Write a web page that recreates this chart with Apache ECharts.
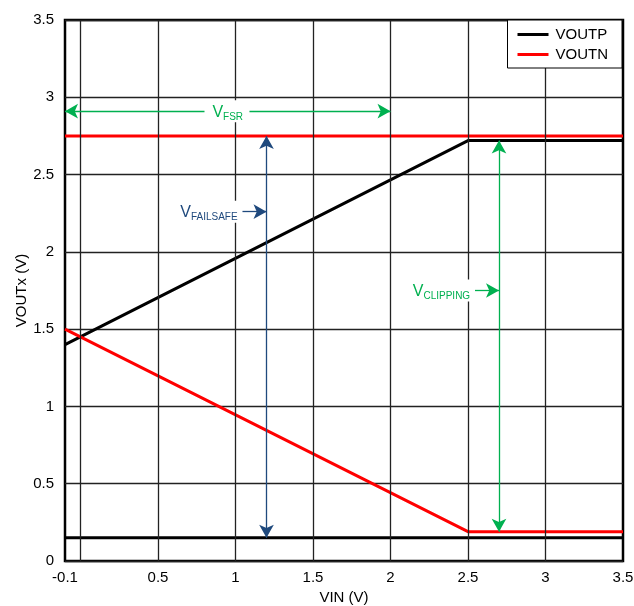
<!DOCTYPE html>
<html><head><meta charset="utf-8">
<script src="https://cdn.jsdelivr.net/npm/echarts@6/dist/echarts.min.js"></script>
<style>html,body{margin:0;padding:0;background:#fff}#c{width:634px;height:606px}</style>
</head><body><div id="c"></div>
<script>
// ---- data ----
const vin = [-0.1, 2.5, 3.5];
const voutp = [1.4, 2.72, 2.72];
const voutn = [1.5, 0.19, 0.19];
const vinRange = [-0.1, 3.5];
const voutpFloor = [0.15, 0.15];
const voutnCeiling = [2.75, 2.75];
const xTickLabels = [-0.1, 0.5, 1, 1.5, 2, 2.5, 3, 3.5];
const xGridValues = [0, 0.5, 1, 1.5, 2, 2.5, 3];
const fsrArrow = { y: 2.91, from: -0.1, to: 2.0, gapFrom: 0.8, gapTo: 1.09, labelX: 0.95 };
const failsafeArrow = { x: 1.2, from: 0.15, to: 2.75, labelY: 2.26, labelX: 1.03, pointerFrom: 1.045 };
const clippingArrow = { x: 2.7, from: 0.19, to: 2.72, labelY: 1.75, labelX: 2.53, pointerFrom: 2.545 };

// ---- chart ----
const FONT = "'Liberation Sans', Arial, sans-serif";
const GREEN = '#00b050';
const BLUE = '#1f497d';
const chart = echarts.init(document.getElementById('c'), null, { renderer: 'canvas' });

function pairs(xs, ys) { return xs.map((x, i) => [x, ys[i]]); }
function richLabel(main, sub, color) {
  return {
    show: true,
    formatter: '{v|' + main + '}{s|' + sub + '}',
    backgroundColor: '#fff',
    padding: [2, 2, 2, 2],
    rich: {
      v: { fontFamily: FONT, fontSize: 16, color: color, verticalAlign: 'bottom', lineHeight: 18 },
      s: { fontFamily: FONT, fontSize: 10, color: color, verticalAlign: 'bottom', lineHeight: 14, padding: [0, 0, -2, 0] }
    }
  };
}
const arrowStyle = (color) => ({ color: color, width: 1.3, type: 'solid' });

const option = {
  animation: false,
  backgroundColor: '#fff',
  textStyle: { fontFamily: FONT },
  grid: { left: 65, right: 11, top: 20, bottom: 45, show: true, borderColor: '#000', borderWidth: 2.5, backgroundColor: 'transparent', outerBoundsMode: 'none', containLabel: false },
  legend: {
    data: ['VOUTP', 'VOUTN'],
    orient: 'vertical',
    right: 12, top: 20,
    backgroundColor: '#fff',
    borderColor: '#000', borderWidth: 1, borderRadius: 0,
    padding: [7, 14, 6, 10],
    itemGap: 5,
    itemWidth: 31, itemHeight: 3,
    icon: 'rect',
    textStyle: { fontFamily: FONT, fontSize: 15, color: '#000', padding: [0, 0, 0, 2] },
    z: 20
  },
  xAxis: {
    type: 'value', min: vinRange[0], max: vinRange[1],
    name: 'VIN (V)', nameLocation: 'middle', nameGap: 29,
    nameTextStyle: { fontFamily: FONT, fontSize: 15, color: '#000' },
    axisLine: { show: false },
    axisTick: { show: false },
    splitLine: { show: false },
    axisLabel: { customValues: xTickLabels, fontFamily: FONT, fontSize: 15, color: '#000', margin: 9 }
  },
  yAxis: {
    type: 'value', min: 0, max: 3.5, interval: 0.5,
    name: 'VOUTx (V)', nameLocation: 'middle', nameGap: 36, nameMoveOverlap: false,
    nameTextStyle: { fontFamily: FONT, fontSize: 15, color: '#000' },
    axisLine: { show: false },
    axisTick: { show: false },
    splitLine: { show: true, lineStyle: { color: '#222', width: 1.3 } },
    axisLabel: { fontFamily: FONT, fontSize: 15, color: '#000', margin: 11 }
  },
  series: [
    {
      name: 'grid-x', type: 'line', data: [], z: 1, silent: true,
      markLine: {
        silent: true, symbol: ['none', 'none'], animation: false,
        label: { show: false },
        lineStyle: { color: '#222', width: 1.3, type: 'solid' },
        data: xGridValues.map(v => ({ xAxis: v }))
      }
    },
    {
      name: 'VOUTP', type: 'line', data: pairs(vin, voutp), showSymbol: false, symbol: 'none', z: 3,
      color: '#000', lineStyle: { color: '#000', width: 3 }
    },
    {
      name: 'VOUTN', type: 'line', data: pairs(vin, voutn), showSymbol: false, symbol: 'none', z: 3,
      color: '#ff0000', lineStyle: { color: '#ff0000', width: 3 }
    },
    {
      name: 'floor', type: 'line', data: pairs(vinRange, voutpFloor), showSymbol: false, symbol: 'none', z: 3,
      color: '#000', lineStyle: { color: '#000', width: 3 }
    },
    {
      name: 'ceiling', type: 'line', data: pairs(vinRange, voutnCeiling), showSymbol: false, symbol: 'none', z: 3,
      color: '#ff0000', lineStyle: { color: '#ff0000', width: 3 }
    },
    {
      name: 'annot', type: 'line', data: [], z: 5, silent: true,
      markLine: {
        silent: true, animation: false, symbolSize: [11, 13],
        label: { show: false },
        data: [
          [{ coord: [fsrArrow.from, fsrArrow.y], symbol: 'arrow', lineStyle: arrowStyle(GREEN) }, { coord: [fsrArrow.gapFrom, fsrArrow.y], symbol: 'none' }],
          [{ coord: [fsrArrow.gapTo, fsrArrow.y], symbol: 'none', lineStyle: arrowStyle(GREEN) }, { coord: [fsrArrow.to, fsrArrow.y], symbol: 'arrow' }],
          [{ coord: [failsafeArrow.x, failsafeArrow.from], symbol: 'arrow', lineStyle: arrowStyle(BLUE) }, { coord: [failsafeArrow.x, failsafeArrow.to], symbol: 'arrow' }],
          [{ coord: [failsafeArrow.pointerFrom, failsafeArrow.labelY], symbol: 'none', lineStyle: arrowStyle(BLUE) }, { coord: [failsafeArrow.x, failsafeArrow.labelY], symbol: 'arrow' }],
          [{ coord: [clippingArrow.x, clippingArrow.from], symbol: 'arrow', lineStyle: arrowStyle(GREEN) }, { coord: [clippingArrow.x, clippingArrow.to], symbol: 'arrow' }],
          [{ coord: [clippingArrow.pointerFrom, clippingArrow.labelY], symbol: 'none', lineStyle: arrowStyle(GREEN) }, { coord: [clippingArrow.x, clippingArrow.labelY], symbol: 'arrow' }]
        ]
      },
      markPoint: {
        silent: true, animation: false, symbol: 'circle', symbolSize: 1,
        itemStyle: { color: 'rgba(0,0,0,0)' },
        data: [
          { coord: [fsrArrow.labelX, fsrArrow.y], label: Object.assign(richLabel('V', 'FSR', GREEN), { position: 'inside' }) },
          { coord: [failsafeArrow.labelX, failsafeArrow.labelY], label: Object.assign(richLabel('V', 'FAILSAFE', BLUE), { position: 'left', distance: 0 }) },
          { coord: [clippingArrow.labelX, clippingArrow.labelY], label: Object.assign(richLabel('V', 'CLIPPING', GREEN), { position: 'left', distance: 0 }) }
        ]
      }
    }
  ]
};
chart.setOption(option);
</script>
</body></html>
